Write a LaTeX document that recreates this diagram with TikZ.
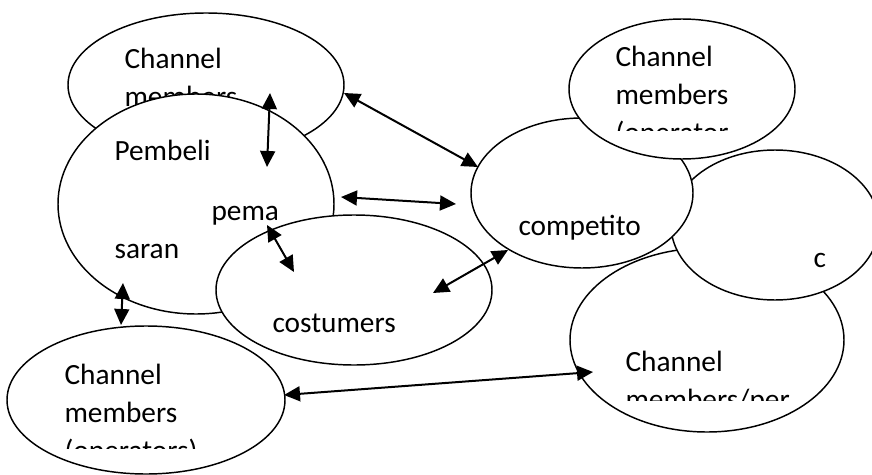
\documentclass[tikz,border=0pt]{standalone}
\usepackage{fontspec}
\setmainfont{Carlito}
\usetikzlibrary{shapes.geometric,arrows.meta}

\begin{document}
\begin{tikzpicture}[x=0.375pt,y=-0.375pt,
  bubble/.style 2 args={ellipse,draw,fill=white,line width=0.55pt,inner sep=0pt,
    minimum width=#1*0.75pt,minimum height=#2*0.75pt},
  word/.style={font=\fontsize{11pt}{14.25pt}\selectfont,inner sep=0pt,anchor=base west,align=left},
  link/.style={{Triangle[length=6pt,width=5.6pt]}-{Triangle[length=6pt,width=5.6pt]},line width=0.75pt}]
 \useasboundingbox (0,0) rectangle (872,475);
 % multi-line words sit on the baseline of their last line
 \node[bubble={138}{72}] (chanA) at (206,85) {};
 \node[word] (tA) at (124,106) {Channel\\members};
 \node[bubble={138}{110}] (pembeli) at (196,204) {};
 \node[word] (tP1) at (114,160) {Pembeli};
 \node[word] (tP2) at (211,220) {pema};
 \node[word] (tP3) at (114,258) {saran};
 \node[bubble={139}{74}] (chanD) at (146,400) {};
 \begin{scope}
  \clip (0,300) rectangle (300,448);
  \node[word] (tD) at (64,460) {Channel\\members\\(operators)};
 \end{scope}
 \node[bubble={138}{75}] (costumers) at (354,290) {};
 \node[word] (tCs) at (272,332) {costumers};
 \node[bubble={137}{92}] (chanC) at (707,340) {};
 \begin{scope}
  \clip (570,300) rectangle (872,400);
  \node[word] (tC) at (625,409) {Channel\\members/per};
 \end{scope}
 \node[bubble={104}{75}] (cbox) at (775,225) {};
 \node[word] (tc) at (813,267) {c};
 \node[bubble={111}{75}] (competitor) at (582,193) {};
 \node[word] (tCp) at (518,235) {competito};
 \node[bubble={113}{70}] (chanB) at (682,89) {};
 \begin{scope}
  \clip (560,0) rectangle (872,130);
  \node[word] (tB) at (615,142) {Channel\\members\\(operator};
 \end{scope}
 %
 \coordinate (a1) at (270,93);  \coordinate (a2) at (267,167);
 \coordinate (b1) at (344,93);  \coordinate (b2) at (478,167);
 \coordinate (c1) at (341,197); \coordinate (c2) at (456,204);
 \coordinate (d1) at (267,225); \coordinate (d2) at (294,272);
 \coordinate (e1) at (433,293); \coordinate (e2) at (508,250);
 \coordinate (f1) at (123,283); \coordinate (f2) at (121,325);
 \coordinate (g1) at (284,395); \coordinate (g2) at (593,372);
 \draw[link] (a1) -- (a2);
 \draw[link] (b1) -- (b2);
 \draw[link] (c1) -- (c2);
 \draw[link] (d1) -- (d2);
 \draw[link] (e1) -- (e2);
 \draw[link] (f1) -- (f2);
 \draw[link] (g1) -- (g2);
\end{tikzpicture}
\end{document}
